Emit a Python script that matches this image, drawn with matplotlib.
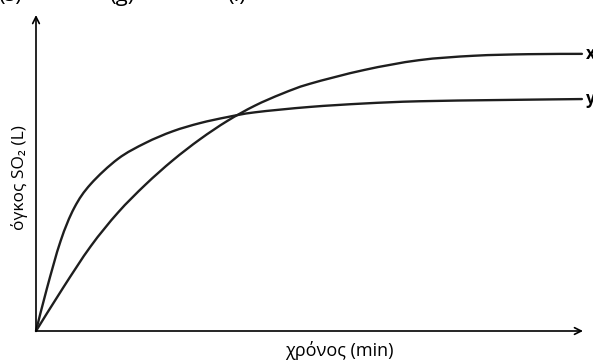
import matplotlib
matplotlib.use("Agg")
import matplotlib.pyplot as plt
from matplotlib.path import Path
from matplotlib.patches import PathPatch

# time (min) and SO2 volume (arbitrary units)
t_y = [0, 0.2, 0.45, 0.7, 1.0, 1.5, 2.0, 2.5, 3.0, 3.5, 4.0, 5.0, 6.0, 7.0, 8.5, 9.98]
v_y = [0, 0.135, 0.285, 0.39, 0.465, 0.545, 0.595, 0.632, 0.658, 0.677, 0.692,
       0.709, 0.72, 0.727, 0.731, 0.734]

t_x = [0, 0.5, 1.0, 1.5, 2.0, 2.5, 3.0, 3.5, 4.0, 4.5, 5.0, 6.0, 7.0, 8.0, 9.0, 9.98]
v_x = [0, 0.138, 0.268, 0.375, 0.463, 0.54, 0.607, 0.665, 0.713, 0.751, 0.782, 0.826,
       0.857, 0.871, 0.876, 0.877]

curve_labels = ["x", "y"]
top_labels = ["(s)", "(g)", "(l)"]


def smooth_path(xs, ys):
    # catmull-rom through the points, written as cubic bezier segments
    pts = list(zip(xs, ys))
    verts = [pts[0]]
    codes = [Path.MOVETO]
    for i in range(len(pts) - 1):
        p0 = pts[i - 1] if i > 0 else pts[i]
        p1 = pts[i]
        p2 = pts[i + 1]
        p3 = pts[i + 2] if i + 2 < len(pts) else pts[i + 1]
        c1 = (p1[0] + (p2[0] - p0[0]) / 6, p1[1] + (p2[1] - p0[1]) / 6)
        c2 = (p2[0] - (p3[0] - p1[0]) / 6, p2[1] - (p3[1] - p1[1]) / 6)
        verts += [c1, c2, p2]
        codes += [Path.CURVE4] * 3
    return Path(verts, codes)


W, H = 593, 363
fig = plt.figure(figsize=(W / 100, H / 100), dpi=100)
ax = fig.add_axes([36 / W, 32 / H, 547 / W, 316 / H])
ax.set_xlim(0, 10)
ax.set_ylim(0, 1)
for s in ax.spines.values():
    s.set_visible(False)
ax.set_xticks([])
ax.set_yticks([])
ax.patch.set_alpha(0)

font = ["Open Sans", "DejaVu Sans"]

# axes with arrow heads
arrow = dict(arrowstyle="->", lw=1.2, color="black", mutation_scale=12,
             shrinkA=0, shrinkB=0)
ax.annotate("", xy=(1.0, 0), xytext=(0, 0), xycoords="axes fraction", arrowprops=arrow)
ax.annotate("", xy=(0, 1.0), xytext=(0, 0), xycoords="axes fraction", arrowprops=arrow)

for tt, vv in [(t_x, v_x), (t_y, v_y)]:
    ax.add_patch(PathPatch(smooth_path(tt, vv), facecolor="none", edgecolor="#1e1e1e",
                           lw=1.7, capstyle="round", joinstyle="round", clip_on=False))

ax.text(t_x[-1] + 0.08, v_x[-1], curve_labels[0], fontsize=12, fontweight="bold",
        va="center", ha="left", family=font, clip_on=False)
ax.text(t_y[-1] + 0.08, v_y[-1], curve_labels[1], fontsize=12, fontweight="bold",
        va="center", ha="left", family=font, clip_on=False)

fig.text(339 / W, 1 - 350 / H, "χρόνος (min)", fontsize=13, family=font,
         ha="center", va="center")
fig.text(20 / W, 1 - 178 / H, "όγκος SO₂ (L)", fontsize=12.5, family=font,
         ha="center", va="center", rotation=90)

for xpix, lab in zip([10, 122, 237], top_labels):
    fig.text(xpix / W, 1 - 1 / H, lab, fontsize=16, ha="center", va="baseline",
             family=font)

fig.savefig("out.png", dpi=100)
